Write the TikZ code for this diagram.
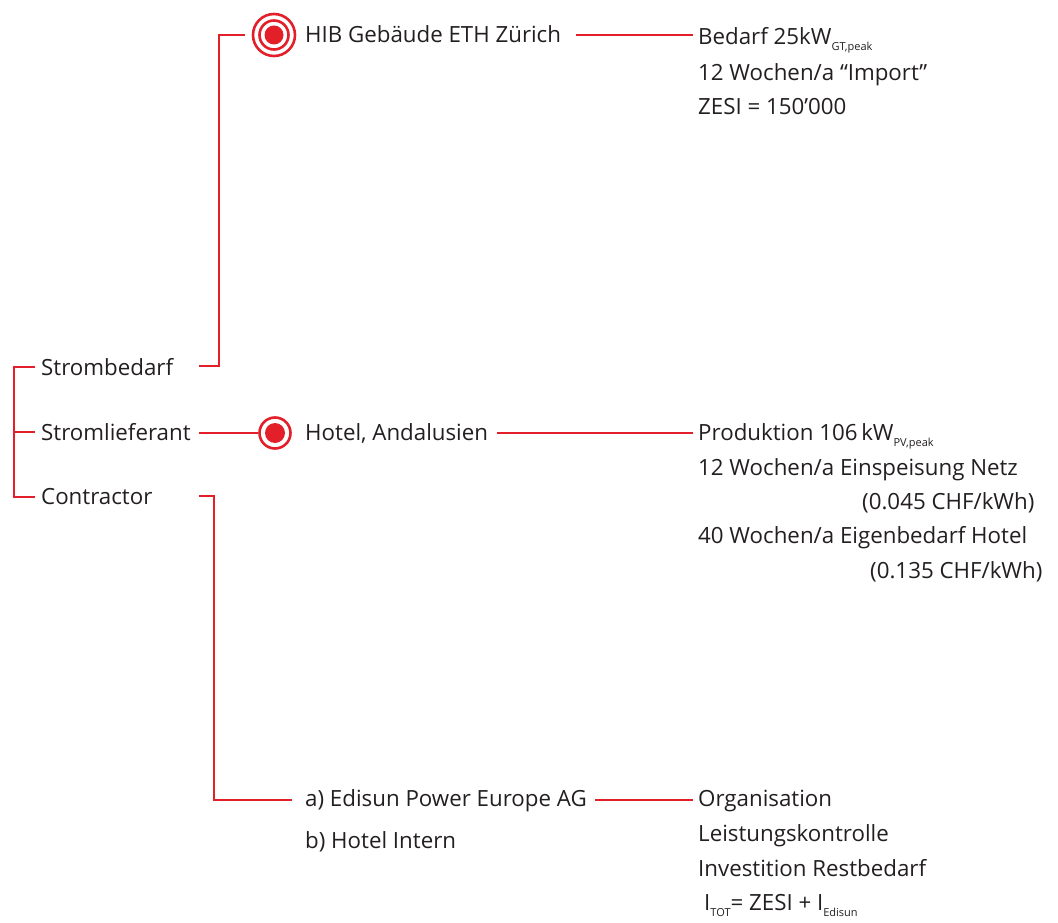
\documentclass[tikz,border=0pt]{standalone}
\usepackage{fontspec}
\setmainfont{Open Sans}
\definecolor{lred}{HTML}{E3202A}
\definecolor{ltxt}{HTML}{231F20}
\newcommand{\sbs}[1]{\raisebox{-6pt}{\fontsize{11}{11}\selectfont #1}}
\begin{document}
\begin{tikzpicture}[x=1pt,y=-1pt,
  conn/.style={draw=lred,line width=2.8pt},
  lbl/.style={anchor=base west,inner sep=0pt,text=ltxt,font=\fontsize{22.3}{24}\selectfont},
  ring/.style={draw=lred,line width=2.6pt},
  dot/.style={fill=lred}]
\useasboundingbox[fill=white] (0,0) rectangle (1058,923);

% left column
\node[lbl] (sb) at (41,375) {Strombedarf};
\node[lbl] (sl) at (41,440) {Stromlieferant};
\node[lbl] (co) at (41,504) {Contractor};
\coordinate (bT) at (35,367);
\coordinate (bM) at (35,432);
\coordinate (bB) at (35,497);
\draw[conn] (bT) -- (14,367) -- (14,497) -- (bB);
\draw[conn] (14,432) -- (bM);

% HIB
\node[lbl] (hib) at (305,43) {HIB Gebäude ETH Zürich};
\coordinate (c1) at (274,35);
\draw[ring] (c1) circle[radius=21];
\draw[ring] (c1) circle[radius=14.5];
\fill[dot] (c1) circle[radius=9.5];
\coordinate (sbR) at (199,366);
\coordinate (hibL) at (245,35);
\draw[conn] (sbR) -- (219,366) |- (hibL);
\coordinate (hibR) at (576,35);
\coordinate (bedL) at (693,35);
\draw[conn] (hibR) -- (bedL);
\node[lbl] (bed) at (698,45) {Bedarf 25kW\sbs{GT,peak}};
\node[lbl] (imp) at (698,81) {12 Wochen/a “Import”};
\node[lbl] (zesi) at (698,115) {ZESI = 150’000};

% Hotel
\coordinate (c2) at (275,433);
\draw[ring] (c2) circle[radius=15.5];
\fill[dot] (c2) circle[radius=10];
\coordinate (slR) at (199,433);
\coordinate (c2L) at (258,433);
\draw[conn] (slR) -- (c2L);
\node[lbl] (hot) at (305,440) {Hotel, Andalusien};
\coordinate (hotR) at (497,433);
\coordinate (proL) at (693,433);
\draw[conn] (hotR) -- (proL);
\node[lbl] (pro) at (698,440) {Produktion 106\,kW\sbs{PV,peak}};
\node[lbl] (ein) at (698,475) {12 Wochen/a Einspeisung Netz};
\node[lbl] (p1) at (862,509) {(0.045 CHF/kWh)};
\node[lbl] (eig) at (698,543) {40 Wochen/a Eigenbedarf Hotel};
\node[lbl] (p2) at (870,578) {(0.135 CHF/kWh)};

% Contractor
\coordinate (coR) at (199,496);
\coordinate (edL) at (292,800);
\draw[conn] (coR) -- (214,496) |- (edL);
\node[lbl] (ed) at (305,806) {a) Edisun Power Europe AG};
\node[lbl] (hi) at (305,848) {b) Hotel Intern};
\coordinate (edR) at (595,800);
\coordinate (orgL) at (693,800);
\draw[conn] (edR) -- (orgL);
\node[lbl] (org) at (698,806) {Organisation};
\node[lbl] (lk) at (698,841) {Leistungskontrolle};
\node[lbl] (inv) at (698,876) {Investition Restbedarf};
\node[lbl] (itot) at (704,910) {I\sbs{TOT}= ZESI + I\sbs{Edisun}};
\end{tikzpicture}
\end{document}
